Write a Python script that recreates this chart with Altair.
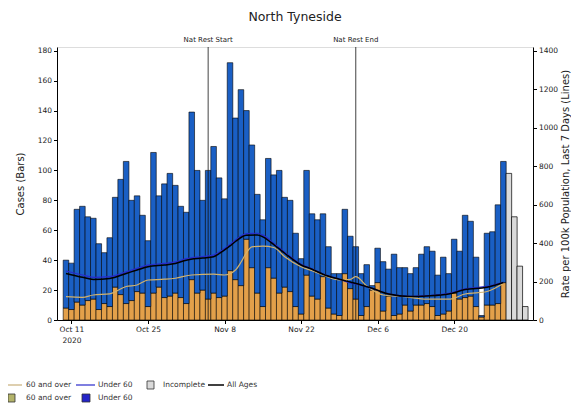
import altair as alt
import pandas as pd

# ---------------- data ----------------
START = "2020-10-10"
# daily cases, complete days (Oct 10 .. Dec 29)
cases_total = [40, 38, 74, 76, 69, 68, 51, 45, 55, 82,
               94, 106, 80, 83, 70, 53, 112, 83, 91, 98,
               90, 76, 72, 139, 100, 80, 100, 116, 95, 81,
               172, 135, 154, 140, 117, 84, 67, 108, 97, 100,
               82, 80, 58, 41, 100, 71, 67, 71, 49, 31,
               31, 74, 56, 49, 31, 37, 23, 48, 39, 34,
               44, 35, 35, 31, 35, 44, 49, 46, 30, 42,
               31, 54, 46, 70, 66, 42, 3, 58, 59, 77, 106]
cases_60plus = [8, 7, 12, 10, 13, 14, 7, 11, 9, 22,
                17, 11, 13, 19, 18, 9, 18, 22, 15, 16,
                18, 15, 11, 27, 18, 20, 14, 18, 15, 16,
                33, 27, 23, 54, 35, 18, 9, 35, 28, 18,
                22, 19, 9, 4, 30, 16, 14, 29, 8, 4,
                3, 31, 21, 14, 3, 9, 20, 25, 6, 16,
                3, 4, 10, 6, 10, 10, 11, 9, 3, 4,
                6, 18, 14, 15, 16, 9, 2, 10, 10, 11, 25]
# incomplete days (Dec 30 .. Jan 2)
incomplete_dates = ["2020-12-30", "2020-12-31", "2021-01-01", "2021-01-02"]
incomplete_total = [98, 69, 36, 9]

# 7-day rates per 100k (day offset from START, value)
rate_all_days = [0, 3, 5, 8, 11, 13, 15, 18, 20, 22, 25, 27, 28, 30, 31, 33, 35, 36,
                 38, 40, 43, 45, 47, 50, 52, 54, 56, 59, 63, 66, 70, 73, 77, 80]
rate_all = [242, 222, 211, 216, 242, 260, 277, 286, 294, 311, 322, 329, 345, 385, 408, 440, 442, 432,
            392, 347, 286, 264, 238, 212, 197, 182, 165, 135, 122, 125, 135, 158, 170, 195]
rate_u60_days = rate_all_days
rate_u60 = [255, 234, 222, 225, 250, 268, 285, 294, 302, 319, 330, 337, 352, 392, 416, 449, 451, 441,
            399, 352, 290, 266, 239, 212, 193, 180, 164, 136, 123, 127, 138, 162, 175, 196]
rate_60_days = [0, 3, 5, 8, 11, 13, 15, 18, 20, 23, 27, 29, 31, 32, 33, 34, 36, 38,
                40, 43, 45, 47, 50, 52, 53, 55, 58, 62, 66, 70, 73, 77, 80]
rate_60 = [121, 118, 130, 136, 174, 182, 208, 212, 217, 234, 238, 234, 260, 300, 350, 380, 384, 377,
           329, 277, 256, 234, 208, 211, 225, 177, 130, 121, 108, 108, 135, 148, 191]

events = ["Nat Rest Start", "Nat Rest End"]
event_dates = ["2020-11-05", "2020-12-02"]

# ---------------- tables ----------------
start = pd.Timestamp(START)
dates = pd.date_range(START, periods=len(cases_total), freq="D").strftime("%Y-%m-%d")
bars = pd.DataFrame({"date": dates, "total": cases_total, "over60": cases_60plus})
inc = pd.DataFrame({"date": incomplete_dates, "total": incomplete_total})


def rate_frame(days, vals):
    return pd.DataFrame({
        "date": [(start + pd.Timedelta(days=d)).strftime("%Y-%m-%d") for d in days],
        "rate": vals})


ev = pd.DataFrame({"date": event_dates, "label": events})

FONT = "DejaVu Sans"
BLUE = "#1a5fc4"
ORANGE = "#e3a04a"

x_scale = alt.Scale(type="utc", domain=[
    alt.DateTime(year=2020, month=10, date=9, hours=6, minutes=30, utc=True),
    alt.DateTime(year=2021, month=1, date=2, hours=12, utc=True)])
x_ticks = [alt.DateTime(year=2020, month=m, date=d, utc=True)
           for m, d in [(10, 11), (10, 25), (11, 8), (11, 22), (12, 6), (12, 20)]]
x_axis = alt.Axis(values=x_ticks, title=None, grid=False,
                  labelExpr="utcFormat(datum.value, '%b %-d') == 'Oct 11' ? ['Oct 11', '2020'] : utcFormat(datum.value, '%b %-d')",
                  labelFontSize=7.5, labelColor="#222", tickColor="#000", tickSize=3.5,
                  domainColor="#000", labelFont=FONT, labelLineHeight=11)
X = alt.X("date:T", scale=x_scale, axis=x_axis)

left_scale = alt.Scale(domain=[0, 182.5], nice=False, zero=True)
left_axis = alt.Axis(values=list(range(0, 181, 20)), title="Cases (Bars)", grid=False,
                     labelFontSize=7.5, labelColor="#222", tickColor="#000", tickSize=3.5,
                     domainColor="#000", titleFontSize=10, titleFontWeight="normal",
                     titleColor="#222", titlePadding=12, labelFont=FONT, titleFont=FONT)
right_scale = alt.Scale(domain=[0, 1419], nice=False, zero=True)
right_axis = alt.Axis(orient="right", values=list(range(0, 1401, 200)), format="d",
                      title="Rate per 100k Population, Last 7 Days (Lines)", grid=False,
                      labelFontSize=7.5, labelColor="#222", tickColor="#000", tickSize=3.5,
                      domainColor="#000", titleFontSize=10, titleFontWeight="normal",
                      titleColor="#222", titlePadding=3, titleAngle=270, titleBaseline="top",
                      labelFont=FONT, titleFont=FONT)

BW = 5.586
orange_bars = alt.Chart(bars).mark_bar(width=BW, color=ORANGE, stroke="#000", strokeWidth=0.6).encode(
    x=X, y=alt.Y("over60:Q", scale=left_scale, axis=left_axis))
blue_bars = alt.Chart(bars).mark_bar(width=BW, color=BLUE, stroke="#000", strokeWidth=0.6).encode(
    x=X, y=alt.Y("over60:Q", scale=left_scale, axis=left_axis), y2="total:Q")
inc_bars = alt.Chart(inc).mark_bar(width=BW, color="#dadada", stroke="#000", strokeWidth=0.7).encode(
    x=X, y=alt.Y("total:Q", scale=left_scale, axis=left_axis))
ev_rules = alt.Chart(ev).mark_rule(color="#111", strokeWidth=0.8).encode(x=X)
ev_text = alt.Chart(ev).mark_text(fontSize=7, font=FONT, color="#222", baseline="middle").encode(
    x=X, y=alt.value(-7), text="label:N")

one = pd.DataFrame({"k": [0]})


def leg_line(x1, x2, y, color, w):
    return alt.Chart(one).mark_rule(color=color, strokeWidth=w).encode(
        x=alt.value(x1), x2=alt.value(x2), y=alt.value(y))


def leg_box(x1, x2, y1, y2, color):
    return alt.Chart(one).mark_rect(color=color, stroke="#333", strokeWidth=0.8).encode(
        x=alt.value(x1), x2=alt.value(x2), y=alt.value(y1), y2=alt.value(y2))


def leg_text(x, y, t):
    return alt.Chart(one).mark_text(text=t, fontSize=7.5, font=FONT, color="#333",
                                    align="left", baseline="middle").encode(
        x=alt.value(x), y=alt.value(y))


legend = [
    leg_line(-54, -35, 338, "#c9b07a", 1.2), leg_text(-31, 338, "60 and over"),
    leg_line(19, 38, 338, "#2a2acc", 1.2), leg_text(41, 338, "Under 60"),
    leg_box(90, 97, 334, 342, "#dadada"), leg_text(106, 338, "Incomplete"),
    leg_line(151, 167, 338, "#000", 1.5), leg_text(170, 338, "All Ages"),
    leg_box(-49, -42, 347, 355, "#b3b36a"), leg_text(-31, 351, "60 and over"),
    leg_box(25, 33, 347, 355, "#2424c8"), leg_text(41, 351, "Under 60"),
]

left = alt.layer(orange_bars, blue_bars, inc_bars, ev_rules, ev_text, *legend)

Yr = alt.Y("rate:Q", scale=right_scale, axis=right_axis)
line60 = alt.Chart(rate_frame(rate_60_days, rate_60)).mark_line(
    color="#d2b26c", strokeWidth=1.2, interpolate="monotone").encode(x=X, y=Yr)
lineu60 = alt.Chart(rate_frame(rate_u60_days, rate_u60)).mark_line(
    color="#2a2acc", strokeWidth=1.2, interpolate="monotone").encode(x=X, y=Yr)
lineall = alt.Chart(rate_frame(rate_all_days, rate_all)).mark_line(
    color="#000", strokeWidth=1.5, interpolate="monotone").encode(x=X, y=Yr)
right = alt.layer(line60, lineu60, lineall)

chart = alt.layer(left, right).resolve_scale(y="independent").properties(
    width=476, height=273,
    title=alt.TitleParams("North Tyneside", fontSize=12.5, font=FONT, fontWeight="normal",
                          color="#222", offset=13, anchor="middle"),
    autosize=alt.AutoSizeParams(type="none"),
    padding={"left": 49, "top": 39, "right": 38, "bottom": 84},
).configure_view(stroke="#000", strokeWidth=0.8).configure(background="white")

chart.save("out.html", embed_options={"renderer": "svg", "actions": False})
